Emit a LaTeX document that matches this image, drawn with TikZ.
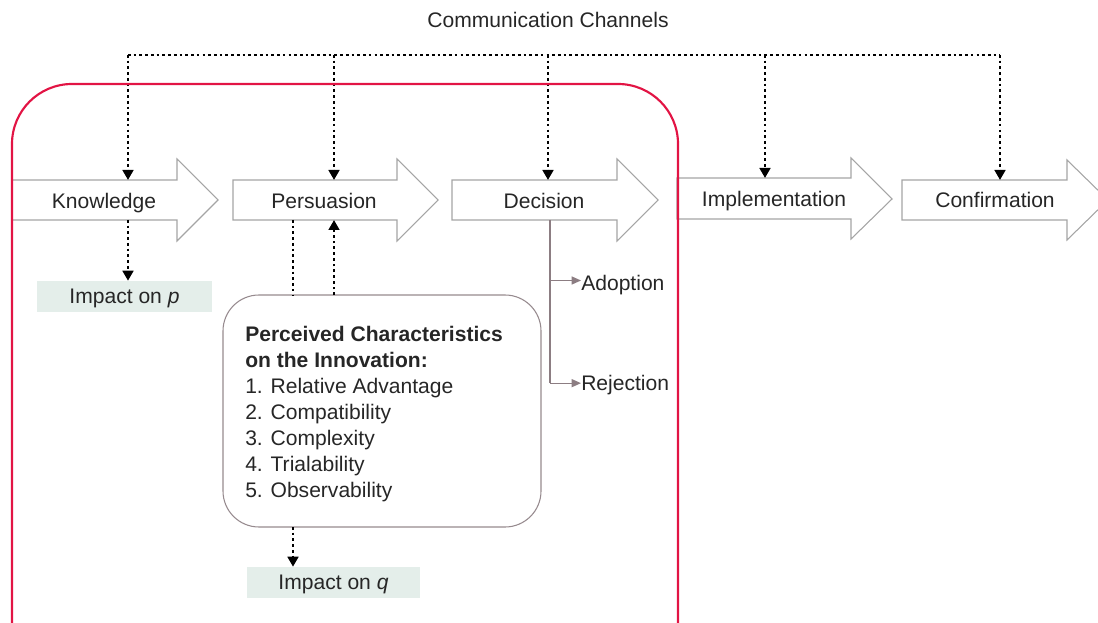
\documentclass[tikz,border=0pt]{standalone}
\usepackage{fontspec}
\setmainfont{Liberation Sans}
\usetikzlibrary{arrows.meta}
\definecolor{ink}{RGB}{38,38,38}
\definecolor{rim}{RGB}{165,165,165}
\definecolor{phase}{RGB}{226,20,68}
\definecolor{pale}{RGB}{228,238,234}
\definecolor{branch}{RGB}{140,125,130}
\definecolor{boxrim}{RGB}{150,138,142}

\begin{document}
\begin{tikzpicture}[x=0.75pt,y=-0.75pt,
  font=\fontsize{15.8}{19.5}\selectfont, text=ink,
  stage/.style={draw=rim, fill=white, line width=0.8pt, line join=miter},
  chan/.style={line width=2pt, dash pattern=on 2pt off 2.3pt,
    -{Triangle[length=7.5pt,width=8pt]}},
  chanplain/.style={line width=2pt, dash pattern=on 2pt off 2.3pt},
  impact/.style={fill=pale, draw=none, inner sep=0pt, text height=11.5pt, text depth=0.3pt},
  fork/.style={draw=branch, line width=0.9pt,
    -{Triangle[length=7pt,width=6pt]}},
  word/.style={inner sep=0pt, anchor=base}]

\useasboundingbox (0,0) rectangle (1098,623);
\clip (0,0) rectangle (1098,623);

% heading of the channel bus
\node[word] (cc) at (548,28) {Communication Channels};

% stage arrows
\draw[stage] (12,180) -- (177,180) -- (177,159) -- (218,200) -- (177,241) -- (177,220) -- (12,220) -- cycle;
\draw[stage] (233,180) -- (397,180) -- (397,159) -- (438,200) -- (397,241) -- (397,220) -- (233,220) -- cycle;
\draw[stage] (452,180) -- (617,180) -- (617,159) -- (658,200) -- (617,241) -- (617,220) -- (452,220) -- cycle;
\draw[stage] (677,178) -- (851,178) -- (851,158) -- (892,199) -- (851,239) -- (851,219) -- (677,219) -- cycle;
\draw[stage] (902,180) -- (1067,180) -- (1067,160) -- (1108,200) -- (1067,240) -- (1067,220) -- (902,220) -- cycle;

\node[word] (know) at (104,208.5) {Knowledge};
\node[word] (pers) at (324,208.5) {Persuasion};
\node[word] (deci) at (544,208.5) {Decision};
\node[word] (impl) at (774,207) {Implementation};
\node[word] (conf) at (995,208) {Confirmation};

% anchor points on the arrow bodies
\coordinate (know-top) at (128,180);
\coordinate (know-bot) at (128,220);
\coordinate (pers-top) at (334,180);
\coordinate (pers-botL) at (293,220);
\coordinate (pers-botR) at (334,220);
\coordinate (deci-top) at (548,180);
\coordinate (deci-bot) at (550,220);
\coordinate (impl-top) at (765,178);
\coordinate (conf-top) at (1000,180);

% bus of communication channels
\coordinate (bus1) at (128,55);
\coordinate (bus2) at (334,55);
\coordinate (bus3) at (548,55);
\coordinate (bus4) at (765,55);
\coordinate (bus5) at (1000,55);
\draw[chanplain] (bus1) -- (bus5);
\draw[chan] (bus1) -- (know-top);
\draw[chan] (bus2) -- (pers-top);
\draw[chan] (bus3) -- (deci-top);
\draw[chan] (bus4) -- (impl-top);
\draw[chan] (bus5) -- (conf-top);

% impact boxes
\node[impact, minimum width=175*0.75pt, minimum height=31*0.75pt] (impp) at (124.5,296.5) {Impact on \textit{p}};
\node[impact, minimum width=173*0.75pt, minimum height=31*0.75pt] (impq) at (333.5,582.5) {Impact on \textit{q}};

% perceived characteristics
\draw[draw=boxrim, line width=0.8pt, rounded corners=27pt] (223,295) rectangle (541,527);
\coordinate (pc-topL) at (293,295);
\coordinate (pc-topR) at (334,295);
\coordinate (pc-bot) at (293,527);
\node[inner sep=0pt, anchor=north west, align=left] (pc) at (245,326)
  {\textbf{Perceived Characteristics}\\
   \textbf{on the Innovation:}\\
   1. Relative Advantage\\
   2. Compatibility\\
   3. Complexity\\
   4. Trialability\\
   5. Observability};

\draw[chan] (know-bot) -- (impp.north -| know-bot);
\draw[chanplain] (pers-botL) -- (pc-topL);
\draw[chan] (pc-topR) -- (pers-botR);
\draw[chan] (pc-bot) -- (impq.north -| pc-bot);

% decision outcomes
\node[word, anchor=base west] (adop) at (581,290.5) {Adoption};
\node[word, anchor=base west] (rej) at (581,390.5) {Rejection};
\coordinate (adop-in) at ([yshift=7.5pt]adop.base west);
\coordinate (rej-in) at ([yshift=5.5pt]rej.base west);
\draw[draw=branch, line width=0.9pt] (deci-bot) -- (rej-in -| deci-bot);
\draw[fork] (adop-in -| deci-bot) -- (adop-in);
\draw[fork] (rej-in -| deci-bot) -- (rej-in);

% innovation-decision frame
\draw[phase, line width=1.6pt, rounded corners=45pt] (12,84) rectangle (678,700);
\end{tikzpicture}
\end{document}
